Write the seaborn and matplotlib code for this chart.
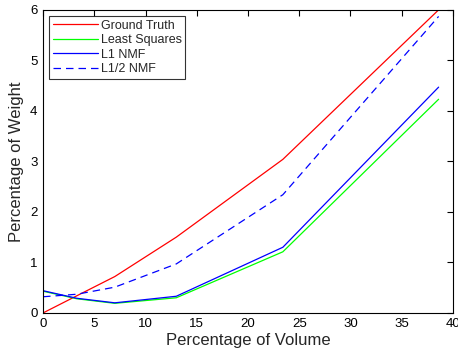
import pandas as pd
import matplotlib
matplotlib.use('Agg')
import matplotlib.pyplot as plt
import seaborn as sns

volume = [0, 3.3, 7, 13, 23.4, 38.6]
ground_truth = [0.0, 0.34, 0.72, 1.5, 3.04, 6.0]
least_squares = [0.43, 0.28, 0.19, 0.30, 1.21, 4.23]
l1_nmf = [0.44, 0.29, 0.20, 0.33, 1.30, 4.47]
l12_nmf = [0.32, 0.37, 0.51, 0.97, 2.34, 5.87]

names = ['Ground Truth', 'Least Squares', 'L1 NMF', 'L1/2 NMF']
series = [ground_truth, least_squares, l1_nmf, l12_nmf]

df = pd.concat([
    pd.DataFrame({'volume': volume, 'weight': vals, 'method': name})
    for name, vals in zip(names, series)
], ignore_index=True)

sns.set_style('white')
plt.rcParams['font.family'] = ['Liberation Sans', 'DejaVu Sans']

fig = plt.figure(figsize=(4.58, 3.52), dpi=100)
ax = fig.add_axes([0.094, 0.111, 0.895, 0.861])

colors = {'Ground Truth': '#ff0000', 'Least Squares': '#00ff00', 'L1 NMF': '#0000ff', 'L1/2 NMF': '#0000ff'}
dashes = {'Ground Truth': '', 'Least Squares': '', 'L1 NMF': '', 'L1/2 NMF': (6, 4)}

sns.lineplot(data=df, x='volume', y='weight', hue='method', style='method',
             palette=colors, dashes=dashes, hue_order=names, style_order=names,
             linewidth=0.9, ax=ax)

ax.set_xlim(0, 40)
ax.set_ylim(0, 6)
ax.set_xticks(range(0, 41, 5))
ax.set_yticks(range(0, 7))
ax.tick_params(direction='in', top=True, right=True, length=4, width=0.8,
               labelsize=9.5, colors='black', pad=4)
for s in ax.spines.values():
    s.set_visible(True)
    s.set_color('black')
    s.set_linewidth(0.8)

ax.set_xlabel('Percentage of Volume', fontsize=12, labelpad=2)
ax.set_ylabel('Percentage of Weight', fontsize=12, labelpad=4)

leg = ax.legend(loc='upper left', fontsize=9, frameon=True, fancybox=False,
                borderaxespad=0.5, handlelength=3.6, handletextpad=0.2,
                labelspacing=0.2, borderpad=0.3)
leg.get_frame().set_edgecolor('black')
leg.get_frame().set_linewidth(0.8)
leg.set_title(None)

fig.savefig('out.png', dpi=100)
